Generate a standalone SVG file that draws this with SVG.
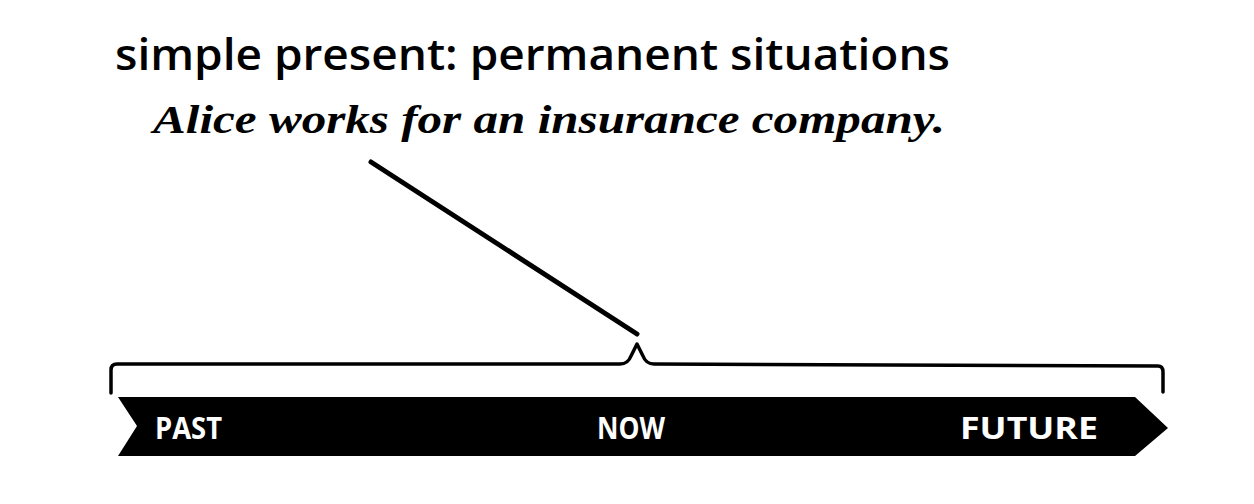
<svg xmlns="http://www.w3.org/2000/svg" width="1254" height="504" viewBox="0 0 1254 504">
<style>
.title{font-family:"Open Sans","Liberation Sans",sans-serif;font-weight:600;font-size:43px;fill:#000}
.ex{font-family:"Liberation Serif",serif;font-style:italic;font-weight:bold;font-size:39px;fill:#000}
.lbl{font-family:"Open Sans","Liberation Sans",sans-serif;font-weight:bold;font-size:30px;fill:#fff}
.ln{fill:none;stroke:#000;stroke-linecap:round;stroke-linejoin:round}
</style>
<rect width="1254" height="504" fill="#fff"/>
<g id="title"><text class="title" x="115" y="70" textLength="835" lengthAdjust="spacingAndGlyphs">simple present: permanent situations</text></g>
<g id="example"><text class="ex" x="153" y="133" textLength="792" lengthAdjust="spacingAndGlyphs">Alice works for an insurance company.</text></g>
<g id="timeline">
<path d="M118,397 L1135,397 L1168,428 L1135,456 L118,456 L137,426 Z" fill="#000"/>
<text class="lbl" x="155" y="439" textLength="67" lengthAdjust="spacingAndGlyphs">PAST</text>
<text class="lbl" x="597" y="439" textLength="68" lengthAdjust="spacingAndGlyphs">NOW</text>
<text class="lbl" x="960" y="439" textLength="138" lengthAdjust="spacingAndGlyphs">FUTURE</text>
</g>
<g id="brace">
<path class="ln" stroke-width="3.5" d="M111,393 L111,370 Q111,364 117,364 L620,364 Q628,364 631,356 L637,344 L643,356 Q646,364 654,364 L1158,366 Q1163,366 1163,372 L1163,392"/>
</g>
<g id="connectors">
<line class="ln" stroke-width="5" x1="371" y1="162" x2="637" y2="334"/>
</g>
</svg>
